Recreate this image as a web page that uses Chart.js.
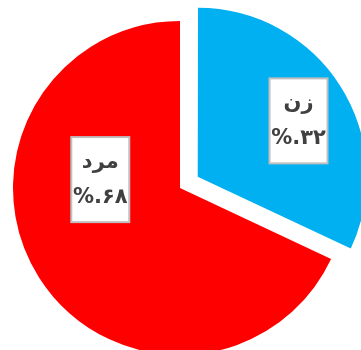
<!DOCTYPE html>
<html>
<head>
<meta charset="utf-8">
<script src="https://cdn.jsdelivr.net/npm/chart.js@4.4.1/dist/chart.umd.min.js"></script>
<style>
  html, body { margin: 0; padding: 0; background: #fff; }
  #wrap { position: relative; width: 361px; height: 350px; }
</style>
</head>
<body>
<div id="wrap"><canvas id="pie" width="361" height="350"></canvas></div>
<script>
// gender split
const genders = ["زن", "مرد"];
const shares = [32, 68];
const shareLabels = ["%.۳۲", "%.۶۸"];

const sliceColors = ["#00B0F0", "#FF0000"];
// pixel shift of each slice away from the centre
const sliceShift = [21, 0];

// where each label box sits inside its slice (angle in degrees, distance as share of radius)
const labelSpots = [
  { angle: -29, dist: 0.69 },
  { angle: -174, dist: 0.48 },
];

const labelBoxes = {
  id: "labelBoxes",
  afterDatasetsDraw(chart) {
    const ctx = chart.ctx;
    const meta = chart.getDatasetMeta(0);
    ctx.save();
    ctx.font = "bold 21px 'DejaVu Sans', sans-serif";
    ctx.textAlign = "center";
    ctx.textBaseline = "middle";
    meta.data.forEach((arc, i) => {
      const { x, y, startAngle, endAngle, outerRadius } = arc.getProps(
        ["x", "y", "startAngle", "endAngle", "outerRadius"], true
      );
      const mid = (startAngle + endAngle) / 2;
      const off = sliceShift[i];
      const cx = x + Math.cos(mid) * off;
      const cy = y + Math.sin(mid) * off;
      const a = (labelSpots[i].angle * Math.PI) / 180;
      const lx = cx + Math.cos(a) * outerRadius * labelSpots[i].dist;
      const ly = cy + Math.sin(a) * outerRadius * labelSpots[i].dist;

      const w = 58, h = 85;
      ctx.fillStyle = "#ffffff";
      ctx.fillRect(lx - w / 2, ly - h / 2, w, h);
      ctx.strokeStyle = "#BFBFBF";
      ctx.lineWidth = 2;
      ctx.strokeRect(lx - w / 2, ly - h / 2, w, h);

      ctx.fillStyle = "#404040";
      ctx.direction = "rtl";
      ctx.fillText(genders[i], lx, ly - 17);
      ctx.direction = "ltr";
      ctx.fillText(shareLabels[i], lx, ly + 18);
    });
    ctx.restore();
  },
};

new Chart(document.getElementById("pie"), {
  type: "pie",
  data: {
    labels: genders,
    datasets: [
      {
        data: shares,
        backgroundColor: sliceColors,
        borderWidth: 0,
        // arc elements translate by offset / 4
        offset: sliceShift.map((s) => s * 4),
        hoverOffset: 0,
        clip: false,
      },
    ],
  },
  options: {
    responsive: false,
    animation: false,
    radius: 167,
    layout: { padding: { top: 26, bottom: 0, left: 0, right: 1 } },
    plugins: {
      legend: { display: false },
      tooltip: { enabled: false },
    },
  },
  plugins: [labelBoxes],
});
</script>
</body>
</html>
